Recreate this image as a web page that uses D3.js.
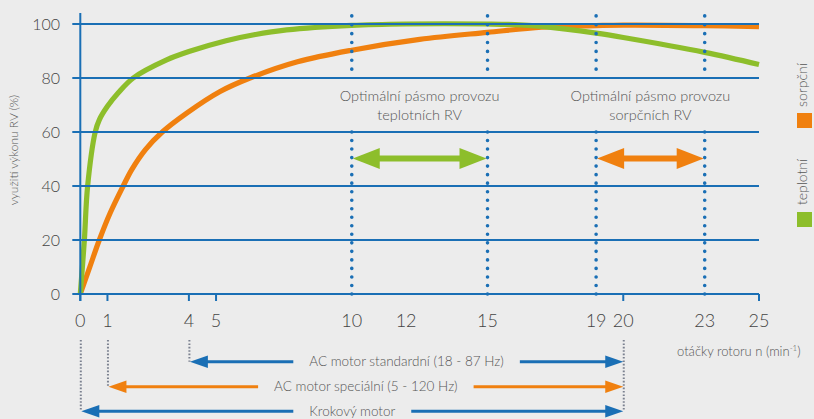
<!DOCTYPE html>
<html>
<head>
<meta charset="utf-8">
<script src="https://cdn.jsdelivr.net/npm/d3@7"></script>
<style>
  html, body { margin: 0; padding: 0; background: #ececec; }
  svg { display: block; font-family: Lato, "Open Sans", sans-serif; }
</style>
</head>
<body>
<svg id="chart" width="814" height="419"></svg>
<script>
// curves: [otáčky, využití %]
const teplotni = [
  [0, 0], [0.15, 20], [0.27, 40], [0.55, 60], [0.7, 64.5], [1, 69.5], [1.4, 74.5],
  [1.95, 80], [3.18, 86.7], [4, 89.8], [5.37, 93.8], [6.4, 96], [7.6, 97.8],
  [10, 99.5], [12, 100], [15, 100], [16, 99.8], [17, 99.1], [19, 96.6],
  [20, 95], [23, 89.5], [25, 85]
]
const sorpcni = [
  [0, 0], [0.35, 10], [0.7, 20], [1.1, 30], [1.58, 40], [1.89, 46], [2.4, 53.5],
  [3.02, 60], [3.92, 67], [5.15, 75], [6.25, 80], [8, 86], [10, 90.3],
  [12.5, 94.3], [15, 96.9], [17, 98.8], [19, 99.4], [20, 99.6], [23, 99.4], [25, 99]
]

const yTicks = [0, 20, 40, 60, 80, 100]
const xTickLabels = [0, 1, 4, 5, 10, 12, 15, 19, 20, 23, 25]
const xTickMarks = [0, 1, 4, 5, 20, 25]
const dottedX = [10, 15, 19, 23]
// the dotted lines break behind the band captions (between 80 and 60)
const dottedSpans = [[103, 80], [60, 0]]

const bands = [
  { from: 10, to: 15, lines: ['Optimální pásmo provozu', 'teplotních RV'], color: '#8dbe2b' },
  { from: 19, to: 23, lines: ['Optimální pásmo provozu', 'sorpčních RV'], color: '#f0800f' }
]

const motorNames = ['AC motor standardní (18 - 87 Hz)', 'AC motor speciální (5 - 120 Hz)', 'Krokový motor']
const motorFrom = [4, 1, 0]
const motorTo = [20, 20, 20]
const motorColors = ['#1a6fb5', '#f0800f', '#1a6fb5']

const legendNames = ['sorpční', 'teplotní']
const legendColors = ['#f0800f', '#8dbe2b']

const BLUE = '#1a6fb5'
const TEXT = '#555'

const svg = d3.select('#chart')

const x = d3.scaleLinear().domain([0, 25]).range([80.3, 759])
const y = d3.scaleLinear().domain([0, 100]).range([294, 24])

// curves (drawn first, grid sits on top of them)
const line = d3.line()
    .x(d => x(d[0]))
    .y(d => y(d[1]))
    .curve(d3.curveCatmullRom.alpha(0.5))

svg.append('path')
    .datum(sorpcni)
    .attr('d', line)
    .attr('fill', 'none')
    .attr('stroke', '#f0800f')
    .attr('stroke-width', 5.2)

svg.append('path')
    .datum(teplotni)
    .attr('d', line)
    .attr('fill', 'none')
    .attr('stroke', '#8dbe2b')
    .attr('stroke-width', 5.2)

// horizontal grid
svg.append('g')
    .selectAll('line')
    .data(yTicks)
    .join('line')
        .attr('x1', x(0) - 8)
        .attr('x2', x(25))
        .attr('y1', d => y(d))
        .attr('y2', d => y(d))
        .attr('stroke', BLUE)
        .attr('stroke-width', 2)

// y axis line
svg.append('line')
    .attr('x1', x(0)).attr('x2', x(0))
    .attr('y1', 13).attr('y2', y(0) + 7)
    .attr('stroke', BLUE).attr('stroke-width', 2)

// x tick marks
svg.append('g')
    .selectAll('line')
    .data(xTickMarks)
    .join('line')
        .attr('x1', d => x(d)).attr('x2', d => x(d))
        .attr('y1', y(0)).attr('y2', y(0) + 7)
        .attr('stroke', BLUE).attr('stroke-width', 2)

// dotted verticals
dottedX.forEach(v => {
    svg.append('g')
        .selectAll('line')
        .data(dottedSpans)
        .join('line')
            .attr('x1', x(v)).attr('x2', x(v))
            .attr('y1', d => y(d[0])).attr('y2', d => y(d[1]))
            .attr('stroke', BLUE)
            .attr('stroke-width', 3.6)
            .attr('stroke-linecap', 'round')
            .attr('stroke-dasharray', d => {
                const len = y(d[1]) - y(d[0])
                const n = Math.round(len / 8.7)
                return `0 ${len / n}`
            })
})

// y tick labels
svg.append('g')
    .selectAll('text')
    .data(yTicks)
    .join('text')
        .attr('x', 60)
        .attr('y', d => y(d))
        .attr('dy', '0.36em')
        .attr('text-anchor', 'end')
        .attr('font-size', 16)
        .attr('font-weight', 300)
        .attr('fill', '#444')
        .text(d => d)

// x tick labels
svg.append('g')
    .selectAll('text')
    .data(xTickLabels)
    .join('text')
        .attr('x', d => x(d))
        .attr('y', 327)
        .attr('text-anchor', 'middle')
        .attr('font-size', 18)
        .attr('font-weight', 300)
        .attr('fill', '#444')
        .text(d => d)

// arrow head at (tx, ty) pointing dir (-1 left, +1 right)
function head(g, tx, ty, dir, len, half, color) {
    g.append('path')
        .attr('d', `M${tx},${ty} L${tx - dir * len},${ty - half} L${tx - dir * len},${ty + half} Z`)
        .attr('fill', color)
}

// optimal bands
const bandY = 158.5
bands.forEach(b => {
    const g = svg.append('g')
    const x1 = x(b.from) + 1, x2 = x(b.to) - 1
    g.append('line')
        .attr('x1', x1 + 20).attr('x2', x2 - 20)
        .attr('y1', bandY).attr('y2', bandY)
        .attr('stroke', b.color).attr('stroke-width', 6)
    head(g, x1, bandY, -1, 27, 10.5, b.color)
    head(g, x2, bandY, 1, 27, 10.5, b.color)
    g.append('text')
        .attr('x', (x(b.from) + x(b.to)) / 2)
        .attr('y', 101)
        .attr('text-anchor', 'middle')
        .attr('font-size', 14.5)
        .attr('font-weight', 300)
        .attr('fill', TEXT)
        .selectAll('tspan')
        .data(b.lines)
        .join('tspan')
            .attr('x', (x(b.from) + x(b.to)) / 2)
            .attr('dy', (d, i) => i ? 19 : 0)
            .text(d => d)
})

// bottom: motor ranges
const motorY = [361.7, 386.7, 411.3]
const dotTop = 340
const grey = '#7b8190'

// dotted drops from the axis labels
const drops = motorFrom.map((f, i) => ({ v: f, y2: motorY[i] }))
drops.push({ v: 20, y2: 411.5 })
svg.append('g')
    .selectAll('line')
    .data(drops)
    .join('line')
        .attr('x1', d => x(d.v) + 0.5).attr('x2', d => x(d.v) + 0.5)
        .attr('y1', dotTop).attr('y2', d => d.y2)
        .attr('stroke', grey)
        .attr('stroke-width', 2)
        .attr('stroke-dasharray', '1.6 1.8')

motorNames.forEach((name, i) => {
    const g = svg.append('g')
    const xa = x(motorFrom[i]) + 1, xb = x(motorTo[i])
    const t = g.append('text')
        .attr('x', (xa + xb) / 2)
        .attr('y', motorY[i])
        .attr('dy', '0.35em')
        .attr('text-anchor', 'middle')
        .attr('font-size', 13.5)
        .attr('font-weight', 300)
        .attr('fill', TEXT)
        .text(name)
    const w = t.node().getComputedTextLength()
    const gap = 16
    const cx = (xa + xb) / 2
    g.append('line')
        .attr('x1', xa + 10).attr('x2', cx - w / 2 - gap)
        .attr('y1', motorY[i]).attr('y2', motorY[i])
        .attr('stroke', motorColors[i]).attr('stroke-width', 3)
    g.append('line')
        .attr('x1', cx + w / 2 + gap).attr('x2', xb - 10)
        .attr('y1', motorY[i]).attr('y2', motorY[i])
        .attr('stroke', motorColors[i]).attr('stroke-width', 3)
    head(g, xa, motorY[i], -1, 18, 6.3, motorColors[i])
    head(g, xb, motorY[i], 1, 18, 6.3, motorColors[i])
})

// x axis title
const xt = svg.append('text')
    .attr('x', 677)
    .attr('y', 356)
    .attr('font-size', 13)
    .attr('font-weight', 300)
    .attr('fill', TEXT)
xt.append('tspan').text('otáčky rotoru n (min')
xt.append('tspan').attr('font-size', 8).attr('dy', -5).text('-1')
xt.append('tspan').attr('dy', 5).text(')')

// y axis title
svg.append('text')
    .attr('transform', 'translate(18,150) rotate(-90)')
    .attr('text-anchor', 'middle')
    .attr('font-size', 12)
    .attr('font-weight', 300)
    .attr('fill', TEXT)
    .text('využití výkonu RV (%)')

// legend
const legendTextY = [85, 182]
const legendBoxY = [113, 212]
legendNames.forEach((n, i) => {
    svg.append('text')
        .attr('transform', `translate(807,${legendTextY[i]}) rotate(-90)`)
        .attr('text-anchor', 'middle')
        .attr('font-size', 14)
        .attr('font-weight', 300)
        .attr('fill', TEXT)
        .text(n)
    svg.append('rect')
        .attr('x', 797).attr('y', legendBoxY[i])
        .attr('width', 15).attr('height', 15)
        .attr('fill', legendColors[i])
})
</script>
</body>
</html>
